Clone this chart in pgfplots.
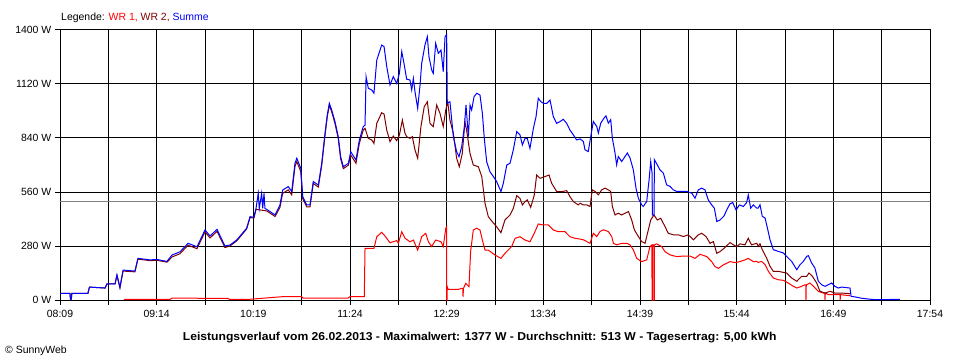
\documentclass[border=0pt]{standalone}
\usepackage{fontspec}
\setmainfont{Liberation Sans}
\usepackage{pgfplots}
\pgfplotsset{compat=1.18}
\definecolor{wrA}{RGB}{255,0,0}
\definecolor{wrB}{RGB}{128,0,0}
\definecolor{sumC}{RGB}{0,0,255}
\definecolor{avgG}{RGB}{128,128,128}
\begin{document}
\fontsize{10.5}{12}\selectfont
\begin{tikzpicture}[x=1bp,y=1bp]
\useasboundingbox (0,0) rectangle (960,360);
\begin{axis}[
  at={(60bp,60bp)}, anchor=south west,
  scale only axis, width=870bp, height=270bp,
  xmin=0, xmax=585, ymin=0, ymax=1400,
  xtick={0,65,130,195,260,325,390,455,520,585},
  xticklabels={08:09,09:14,10:19,11:24,12:29,13:34,14:39,15:44,16:49,17:54},
  minor xtick={32.5,97.5,162.5,227.5,292.5,357.5,422.5,487.5,552.5},
  ytick={0,280,560,840,1120,1400},
  yticklabels={0 W,280 W,560 W,840 W,1120 W,1400 W},
  grid=both,
  major grid style={black, line width=1bp},
  minor grid style={black, line width=1bp},
  axis line style={black, line width=1bp},
  tick style={black, line width=1bp},
  tick align=outside, tick pos=left,
  major tick length=5bp, minor tick length=5bp,
  xticklabel style={font=\fontsize{10.5}{12}\selectfont, yshift=-2bp},
  yticklabel style={font=\fontsize{10.5}{12}\selectfont},
]
\addplot[avgG, line width=1bp, mark=none] coordinates {(0,513) (585,513)};
\addplot[wrA, line width=1bp, mark=none] coordinates {
(43.0,3) (74.0,3) (75.3,10) (113.0,8) (114,3) (126.4,3) (149.1,17) (162.5,17) (163.4,10) (193.7,10) (195.0,17) (204.6,17) (205.1,268) (211.1,268) (213.0,328) (216.3,351) (218.5,332) (221.9,297) (226.4,308) (227.5,294) (229.8,354) (232.0,320) (235.3,302) (237.6,311) (240.5,259) (243.2,328) (245.9,346) (247.7,302) (249.9,277) (252.6,311) (256.2,302) (257.7,277) (259.4,372) (260.0,380) (260.0,0) (260.3,0) (260.4,69) (261.0,55) (267.8,55) (270.1,60) (270.8,60) (271.0,17) (271.3,60) (272.8,86) (275.0,69) (276.1,251) (277.9,363) (280.2,372) (282.4,363) (284.0,311) (285.8,259) (288.0,259) (292.5,233) (296.5,216) (299.2,242) (303.7,277) (306.0,320) (309.3,328) (312.7,311) (316.0,302) (318.9,346) (321.6,394) (325.0,389) (328.4,389) (331.7,363) (335.1,354) (339.6,354) (342.9,328) (346.3,320) (349.7,316) (351.9,312) (354.2,303) (356.4,294) (358.6,346) (360.9,329) (363.1,355) (365.4,364) (368.7,355) (371.0,329) (372.1,294) (374.3,286) (377.7,294) (381.1,294) (383.3,286) (385.5,260) (387.8,216) (391.1,199) (394.5,208) (396.7,277) (398.0,286) (398.1,0) (398.3,0) (398.4,286) (399.3,286) (399.4,0) (399.6,0) (399.7,286) (401.2,291) (404.6,277) (406.8,251) (410.2,234) (414.7,225) (419.1,228) (423.6,228) (427.0,216) (430.4,237) (434.9,225) (438.2,199) (440.4,173) (442.7,164) (446.0,182) (450.5,199) (453.9,194) (457.2,199) (460.6,208) (462.8,216) (466.2,199) (468.5,200) (469.5,195) (471.8,200) (474.1,183) (476.3,149) (479.6,114) (483.0,105) (486.4,102) (489.7,88) (493.1,71) (495.4,62) (498.7,71) (500.9,79) (501.5,79) (501.6,0) (501.8,79) (504.3,88) (506.6,71) (509.9,45) (513.3,36) (514.3,36) (514.4,0) (514.6,36) (516.6,28) (524.5,28) (524.6,0) (524.8,28) (531.2,22)
};
\addplot[wrB, line width=1bp, mark=none] coordinates {
(0,35) (6.7,35) (7.0,5) (7.6,5) (8.0,35) (18.8,35) (19.8,67) (30.3,62) (31.6,83) (37.0,83) (38.3,128) (40.3,63) (42.4,150) (50.4,146) (52.4,212) (60.5,204) (65.2,206) (71.9,196) (75.3,223) (80.7,240) (86.1,284) (92.1,266) (97.5,353) (100.9,322) (105.6,356) (110.9,272) (114.3,280) (118.8,306) (125.5,368) (127.8,428) (130.4,425) (131.8,470) (139.0,462) (144.6,433) (147.9,480) (149.7,553) (153.5,571) (155.8,545) (158.0,692) (159.2,718) (161.9,666) (163.2,526) (165.9,483) (168.1,483) (170.3,604) (173.7,586) (176.0,699) (178.2,854) (179.7,949) (181.1,1010) (182.7,975) (184.9,915) (187.1,837) (188.7,733) (190.5,681) (193.9,699) (195.5,752) (199.0,709) (201.3,813) (203.9,881) (205.1,890) (207.3,838) (209.6,830) (211.1,812) (213.0,916) (216.3,971) (217.9,964) (219.7,881) (221.9,821) (224.1,850) (226.4,826) (228.2,855) (230.2,933) (232.0,864) (233.1,847) (235.3,838) (236.9,847) (238.7,778) (240.5,735) (242.7,899) (244.9,1002) (247.0,1028) (248.8,916) (251.0,899) (253.3,1011) (255.5,968) (257.7,899) (259.4,985) (260.7,1028) (262.2,933) (264.5,864) (266.7,735) (268.5,691) (270.5,760) (272.3,925) (273.4,881) (275.7,760) (277.9,700) (281.3,691) (283.6,640) (285.8,501) (288.0,432) (290.7,406) (293.6,380) (296.5,349) (299.2,415) (302.6,441) (304.8,475) (307.1,541) (309.3,527) (310.9,493) (312.7,510) (314.2,519) (316.5,480) (318.9,544) (320.5,648) (322.8,631) (326.1,640) (328.8,648) (330.6,605) (334.0,562) (337.3,562) (340.7,567) (342.9,536) (345.2,510) (348.5,493) (349.7,502) (351.9,493) (354.2,493) (356.4,485) (357.9,571) (359.8,563) (362.0,545) (364.2,571) (366.5,580) (368.7,571) (370.3,563) (371.4,485) (373.2,441) (375.4,450) (377.7,441) (379.9,450) (382.2,459) (384.4,415) (386.2,364) (388.2,338) (391.1,303) (393.4,294) (395.6,364) (397.2,415) (399.4,441) (401.6,415) (403.9,424) (406.8,381) (409.0,346) (412.4,338) (415.8,338) (419.1,329) (422.5,338) (425.9,312) (429.2,338) (431.5,346) (434.4,329) (437.1,294) (439.3,303) (441.6,242) (443.8,251) (446.5,268) (450.5,298) (452.8,286) (455.0,277) (457.2,291) (460.6,286) (462.8,320) (465.0,286) (468.5,294) (469.5,278) (470.7,292) (472.2,261) (475.1,218) (477.4,175) (479.6,149) (483.0,149) (486.4,143) (488.6,140) (492.0,114) (495.4,97) (498.7,123) (502.1,123) (503.6,140) (505.9,123) (508.8,88) (511.0,45) (514.4,36) (517.8,45) (521.1,36) (525.6,36) (531.2,33)
};
\addplot[sumC, line width=1bp, mark=none] coordinates {
(0,35) (6.7,35) (7.0,5) (7.6,5) (8.0,35) (18.8,35) (19.8,67) (30.3,62) (31.6,83) (37.0,83) (38.3,130) (40.3,65) (42.4,155) (50.4,150) (52.4,216) (60.5,208) (65.2,210) (71.9,200) (75.3,233) (80.7,250) (86.1,294) (92.1,276) (97.5,363) (100.9,332) (105.6,366) (110.9,280) (114.3,285) (118.8,311) (125.5,372) (127.8,432) (130.4,429) (131.8,475) (133.3,553) (134.0,475) (135.6,553) (136.3,475) (137.2,553) (137.8,475) (139.0,470) (144.6,441) (147.9,493) (149.7,570) (153.5,588) (155.8,562) (158.0,709) (159.2,735) (161.9,683) (163.2,536) (165.9,493) (168.1,493) (170.3,614) (173.7,596) (176.0,709) (178.2,864) (179.7,959) (181.1,1020) (182.7,985) (184.9,925) (187.1,847) (188.7,743) (190.5,691) (193.9,709) (195.5,769) (199.0,726) (201.3,830) (203.9,899) (205.1,907) (205.8,1158) (207.3,1098) (209.6,1089) (211.1,1072) (213.0,1244) (216.3,1322) (217.9,1314) (219.7,1210) (221.9,1115) (224.1,1158) (226.4,1123) (228.2,1175) (229.8,1288) (231.3,1227) (233.1,1145) (235.3,1141) (236.5,1089) (237.6,1149) (238.7,1080) (240.5,994) (242.1,1115) (243.2,1227) (245.4,1322) (247.0,1365) (248.1,1262) (249.9,1193) (251.0,1175) (252.6,1331) (254.4,1279) (256.2,1296) (257.7,1184) (258.9,1365) (260.0,1377) (260.4,1020) (262.2,1028) (264.5,847) (266.7,769) (268.3,743) (270.1,795) (271.9,899) (273.0,1011) (274.6,847) (275.7,1011) (276.8,985) (278.4,1054) (280.2,1072) (282.4,1063) (284.0,968) (285.3,838) (286.9,717) (289.1,665) (291.4,640) (293.6,614) (296.5,562) (298.1,605) (300.4,700) (302.6,709) (304.8,778) (307.1,873) (309.3,856) (310.9,804) (312.7,838) (314.2,838) (316.0,786) (318.3,890) (320.1,951) (321.6,1046) (323.4,1028) (325.0,1020) (327.3,1020) (329.5,1037) (331.7,951) (334.0,916) (336.2,925) (338.4,937) (340.7,916) (342.9,881) (345.2,856) (347.4,830) (349.7,835) (351.9,822) (353.0,779) (355.2,770) (356.9,848) (358.6,926) (360.9,900) (362.0,866) (363.6,917) (365.8,943) (367.1,955) (368.7,917) (370.3,935) (371.4,840) (373.2,762) (374.3,701) (375.4,744) (377.7,718) (379.9,744) (381.5,762) (383.3,736) (385.5,675) (387.3,580) (388.9,528) (391.1,493) (392.2,485) (394.5,511) (396.1,623) (397.2,718) (398.1,660) (398.3,440) (399.4,440) (399.7,727) (401.6,701) (403.4,675) (405.7,658) (407.9,597) (410.2,589) (412.4,571) (414.7,563) (418.0,563) (421.4,563) (424.8,554) (427.0,528) (429.2,571) (431.5,580) (433.7,571) (435.9,519) (438.2,493) (440.0,476) (441.6,407) (443.8,415) (446.5,436) (448.3,467) (450.5,499) (452.3,505) (454.6,467) (456.8,493) (459.5,485) (461.7,505) (462.8,545) (464.4,476) (466.2,493) (468.5,476) (469.5,477) (470.7,494) (472.2,434) (474.1,425) (475.9,365) (477.4,313) (479.6,261) (483.0,252) (486.4,244) (488.6,226) (492.0,200) (495.4,157) (497.6,183) (499.8,200) (502.1,226) (503.2,230) (505.4,192) (507.6,166) (509.9,97) (512.2,79) (514.4,71) (516.6,79) (518.9,88) (521.1,71) (523.3,62) (525.6,67) (531.2,62) (531.9,19) (534.6,16) (539.1,9) (543.5,5) (548.0,2) (564.8,3)
};
\end{axis}
\node[anchor=base west, inner sep=0pt] at (61,340) {Legende: \textcolor{wrA}{WR 1,} \textcolor{wrB}{WR 2,} \textcolor{sumC}{Summe}};
\node[anchor=base, inner sep=0pt, font=\bfseries\fontsize{11.5}{13}\selectfont] at (479.7,20) {\scalebox{1.06}[1]{Leistungsverlauf vom 26.02.2013 - Maximalwert: 1377 W - Durchschnitt: 513 W - Tagesertrag: 5,00 kWh}};
\node[anchor=base west, inner sep=0pt] at (5,7) {\textcopyright{} SunnyWeb};
\end{tikzpicture}
\end{document}
